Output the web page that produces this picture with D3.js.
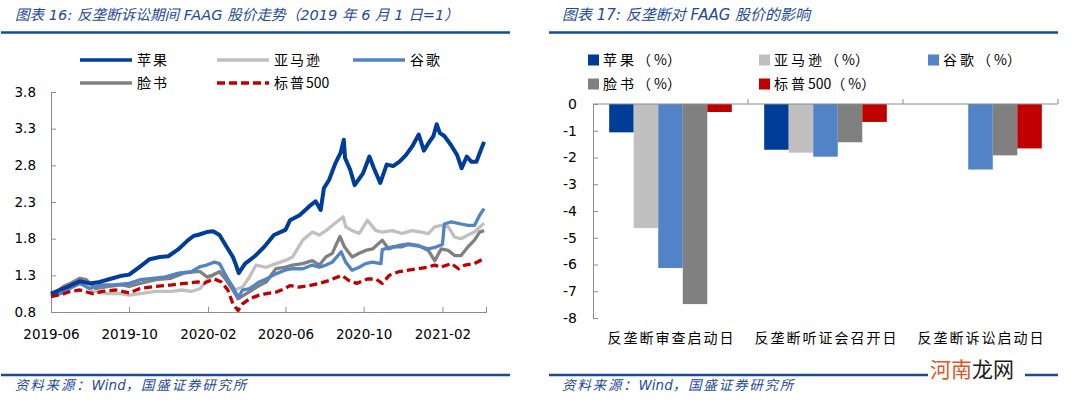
<!DOCTYPE html>
<html><head><meta charset="utf-8">
<script src="https://cdn.jsdelivr.net/npm/d3@7"></script>
<style>
html,body{margin:0;padding:0;background:#fff;}
svg{display:block;}
</style></head>
<body>
<svg id="c" width="1080" height="402"></svg>
<script>
// ---------- Left chart data ----------
const lineNames = ["苹果","亚马逊","谷歌","脸书","标普500"];
const lineColors = ["#003d99","#c0c0c0","#5183c6","#808080","#c00000"];
const xTickLabels = ["2019-06","2019-10","2020-02","2020-06","2020-10","2021-02"];
const yTicksLeft = [0.8,1.3,1.8,2.3,2.8,3.3,3.8];

const appleLine = [["2019-06-01",1.05],["2019-06-15",1.10],["2019-07-01",1.16],["2019-07-16",1.22],["2019-08-01",1.19],["2019-08-16",1.21],["2019-09-01",1.25],["2019-09-17",1.29],["2019-10-01",1.31],["2019-10-18",1.42],["2019-11-02",1.52],["2019-11-18",1.55],["2019-12-01",1.56],["2019-12-16",1.65],["2020-01-01",1.78],["2020-01-10",1.84],["2020-01-16",1.85],["2020-01-30",1.89],["2020-02-09",1.90],["2020-02-19",1.85],["2020-03-01",1.69],["2020-03-11",1.55],["2020-03-15",1.46],["2020-03-20",1.33],["2020-03-30",1.46],["2020-04-14",1.56],["2020-04-29",1.69],["2020-05-14",1.85],["2020-06-01",1.92],["2020-06-08",2.05],["2020-06-23",2.12],["2020-07-08",2.24],["2020-07-18",2.31],["2020-07-26",2.19],["2020-07-31",2.49],["2020-08-08",2.60],["2020-08-18",2.83],["2020-08-26",2.97],["2020-08-31",3.15],["2020-09-02",2.90],["2020-09-10",2.74],["2020-09-17",2.53],["2020-09-30",2.69],["2020-10-10",2.92],["2020-10-17",2.76],["2020-10-27",2.56],["2020-11-06",2.81],["2020-11-16",2.79],["2020-11-26",2.85],["2020-12-06",2.94],["2020-12-16",3.06],["2020-12-26",3.22],["2021-01-03",3.00],["2021-01-10",3.10],["2021-01-18",3.20],["2021-01-23",3.36],["2021-01-28",3.24],["2021-02-04",3.20],["2021-02-14",3.08],["2021-02-24",2.94],["2021-03-03",2.76],["2021-03-11",2.92],["2021-03-18",2.85],["2021-03-26",2.85],["2021-04-02",3.01],["2021-04-07",3.12]];

const amazonLine = [["2019-06-01",1.05],["2019-06-21",1.12],["2019-07-11",1.19],["2019-07-26",1.17],["2019-08-05",1.08],["2019-08-29",1.05],["2019-09-18",1.05],["2019-10-01",1.03],["2019-10-18",1.05],["2019-11-12",1.08],["2019-12-07",1.08],["2019-12-22",1.10],["2020-01-06",1.08],["2020-01-20",1.12],["2020-01-30",1.23],["2020-02-11",1.32],["2020-02-22",1.35],["2020-03-03",1.21],["2020-03-13",1.10],["2020-03-26",1.14],["2020-04-06",1.28],["2020-04-16",1.44],["2020-05-02",1.41],["2020-05-17",1.46],["2020-05-31",1.50],["2020-06-12",1.55],["2020-06-28",1.78],["2020-07-13",1.89],["2020-07-24",1.85],["2020-08-03",1.91],["2020-08-13",1.98],["2020-08-30",2.10],["2020-09-03",1.96],["2020-09-13",1.91],["2020-09-24",1.87],["2020-10-07",2.05],["2020-10-20",1.91],["2020-10-30",1.89],["2020-11-15",1.91],["2020-11-30",1.87],["2020-12-15",1.91],["2020-12-30",1.89],["2021-01-10",1.87],["2021-01-20",1.96],["2021-01-30",1.98],["2021-02-10",1.96],["2021-02-20",1.82],["2021-03-02",1.80],["2021-03-13",1.85],["2021-03-23",1.89],["2021-04-03",1.98],["2021-04-07",2.01]];

const googleLine = [["2019-06-01",1.03],["2019-06-16",1.05],["2019-06-30",1.12],["2019-07-16",1.19],["2019-07-31",1.12],["2019-08-18",1.17],["2019-09-07",1.17],["2019-10-01",1.19],["2019-10-18",1.24],["2019-11-07",1.26],["2019-11-27",1.28],["2019-12-17",1.33],["2020-01-06",1.35],["2020-01-20",1.42],["2020-01-30",1.44],["2020-02-11",1.48],["2020-02-19",1.46],["2020-03-01",1.28],["2020-03-11",1.14],["2020-03-19",1.00],["2020-03-26",1.10],["2020-04-06",1.12],["2020-04-21",1.21],["2020-05-02",1.25],["2020-05-17",1.32],["2020-05-31",1.37],["2020-06-12",1.39],["2020-06-28",1.39],["2020-07-13",1.44],["2020-07-24",1.41],["2020-08-03",1.44],["2020-08-13",1.48],["2020-08-27",1.62],["2020-09-03",1.48],["2020-09-13",1.37],["2020-09-24",1.41],["2020-10-04",1.46],["2020-10-15",1.48],["2020-10-28",1.46],["2020-10-30",1.65],["2020-11-15",1.69],["2020-11-30",1.69],["2020-12-10",1.72],["2020-12-25",1.70],["2021-01-10",1.66],["2021-01-20",1.68],["2021-02-01",1.72],["2021-02-04",2.00],["2021-02-15",2.03],["2021-03-02",2.00],["2021-03-13",1.98],["2021-03-23",1.98],["2021-03-31",2.12],["2021-04-07",2.21]];

const facebookLine = [["2019-06-01",1.03],["2019-06-21",1.15],["2019-07-01",1.19],["2019-07-16",1.26],["2019-07-26",1.24],["2019-08-10",1.12],["2019-08-30",1.15],["2019-09-20",1.17],["2019-10-01",1.15],["2019-10-18",1.19],["2019-11-12",1.24],["2019-12-05",1.26],["2019-12-25",1.33],["2020-01-14",1.35],["2020-01-20",1.35],["2020-01-30",1.28],["2020-02-08",1.30],["2020-02-19",1.35],["2020-03-01",1.23],["2020-03-11",1.10],["2020-03-19",0.98],["2020-03-28",1.03],["2020-04-10",1.10],["2020-04-21",1.16],["2020-05-02",1.21],["2020-05-17",1.39],["2020-05-31",1.41],["2020-06-12",1.44],["2020-06-28",1.46],["2020-07-13",1.50],["2020-07-24",1.44],["2020-08-03",1.55],["2020-08-13",1.60],["2020-08-25",1.83],["2020-09-01",1.69],["2020-09-13",1.55],["2020-09-24",1.60],["2020-10-04",1.64],["2020-10-15",1.66],["2020-10-30",1.78],["2020-11-09",1.66],["2020-11-25",1.71],["2020-12-10",1.73],["2020-12-25",1.71],["2021-01-10",1.64],["2021-01-20",1.50],["2021-01-30",1.66],["2021-02-10",1.64],["2021-02-20",1.57],["2021-03-02",1.57],["2021-03-13",1.69],["2021-03-23",1.78],["2021-03-31",1.89],["2021-04-07",1.91]];

const sp500Line = [["2019-06-01",1.01],["2019-06-21",1.05],["2019-07-01",1.08],["2019-07-16",1.10],["2019-08-05",1.05],["2019-08-20",1.08],["2019-09-10",1.10],["2019-10-01",1.06],["2019-10-18",1.12],["2019-11-12",1.15],["2019-12-07",1.17],["2019-12-27",1.19],["2020-01-16",1.21],["2020-01-26",1.19],["2020-01-30",1.21],["2020-02-11",1.25],["2020-02-22",1.21],["2020-03-03",1.10],["2020-03-11",0.91],["2020-03-19",0.82],["2020-03-26",0.91],["2020-04-06",0.98],["2020-04-21",1.03],["2020-05-02",1.05],["2020-05-17",1.07],["2020-05-31",1.12],["2020-06-08",1.16],["2020-06-22",1.14],["2020-07-08",1.16],["2020-07-24",1.19],["2020-08-08",1.23],["2020-08-28",1.30],["2020-09-08",1.23],["2020-09-20",1.19],["2020-10-07",1.25],["2020-10-20",1.25],["2020-10-30",1.19],["2020-11-10",1.30],["2020-11-25",1.35],["2020-12-10",1.37],["2020-12-25",1.39],["2021-01-08",1.41],["2021-01-20",1.44],["2021-01-29",1.41],["2021-02-15",1.46],["2021-02-26",1.39],["2021-03-08",1.44],["2021-03-23",1.46],["2021-04-07",1.53]];

// ---------- Right chart data ----------
const barCategories = ["反垄断审查启动日","反垄断听证会召开日","反垄断诉讼启动日"];
const barSeriesNames = ["苹果（%）","亚马逊（%）","谷歌（%）","脸书（%）","标普500（%）"];
const appleBar = [-1.06,-1.71,null];
const amazonBar = [-4.64,-1.82,null];
const googleBar = [-6.13,-1.97,-2.45];
const facebookBar = [-7.48,-1.43,-1.92];
const sp500Bar = [-0.30,-0.67,-1.66];
const yTicksRight = [0,-1,-2,-3,-4,-5,-6,-7,-8];

// ---------- Drawing ----------
const svg = d3.select("#c");
const BLUE = "#1f4a9c";
const AX = "#8c8c8c";
const NUMF = "'DejaVu Sans','Noto Sans CJK SC',sans-serif";
const CJKF = "'Noto Sans CJK SC','DejaVu Sans',sans-serif";
svg.append("rect").attr("width",1080).attr("height",402).attr("fill","#fff");

// write text: wide letter spacing only on CJK / full-width runs
function spacedText(sel, str, sp){
  const runs = str.match(/[\u3000-\u9fff\uff00-\uffef]+|[^\u3000-\u9fff\uff00-\uffef]+/g) || [];
  runs.forEach(r=>{
    const cjk = /[\u3000-\u9fff\uff00-\uffef]/.test(r);
    sel.append("tspan").attr("letter-spacing",cjk?sp:0).text(r);
  });
  return sel;
}

// titles and frame lines
svg.append("text").attr("x",15).attr("y",20).attr("fill",BLUE).attr("font-size",14.6)
  .attr("font-style","italic").attr("font-family",NUMF)
  .text("图表 16:  反垄断诉讼期间 FAAG 股价走势（2019 年 6 月 1 日=1）");
svg.append("text").attr("x",562).attr("y",20).attr("fill",BLUE).attr("font-size",15)
  .attr("font-style","italic").attr("font-family",NUMF)
  .text("图表 17:  反垄断对 FAAG 股价的影响");
[[1,510],[549,1058]].forEach(([a,b])=>{
  svg.append("line").attr("x1",a).attr("x2",b).attr("y1",32.5).attr("y2",32.5).attr("stroke","#1a4a9a").attr("stroke-width",2.5);
  svg.append("line").attr("x1",a).attr("x2",b).attr("y1",375).attr("y2",375).attr("stroke","#1a4a9a").attr("stroke-width",2.5);
});
[15,562].forEach(x=>{
  const t = svg.append("text").attr("x",x).attr("y",390).attr("fill",BLUE).attr("font-size",13.5)
    .attr("font-style","italic").attr("font-family",NUMF);
  spacedText(t,"资料来源：Wind，国盛证券研究所",1.8);
});

// ----- Left line chart -----
const parse = d3.timeParse("%Y-%m-%d");
const xL = d3.scaleTime().domain([parse("2019-06-01"),parse("2021-04-10")]).range([51,486]);
const yL = d3.scaleLinear().domain([0.8,3.8]).range([312,92]);
const gL = svg.append("g");

const yAxisL = d3.axisLeft(yL).tickValues(yTicksLeft).tickFormat(d3.format(".1f")).tickSize(-5).tickPadding(15);
const gy = gL.append("g").attr("transform","translate(51,0)").call(yAxisL);
const xTickDates = xTickLabels.map(s=>parse(s+"-01"));
const xAxisL = d3.axisBottom(xL).tickValues(xTickDates).tickFormat(d3.timeFormat("%Y-%m")).tickSize(-5).tickPadding(20);
const gx = gL.append("g").attr("transform","translate(0,312)").call(xAxisL);
[gy,gx].forEach(g=>{
  g.select(".domain").attr("stroke",AX);
  g.selectAll(".tick line").attr("stroke",AX);
  g.selectAll("text").attr("font-family",NUMF).attr("font-size",13.5).attr("fill","#000");
});
gx.selectAll("text").attr("dy","0.5em");

const seriesLines = [appleLine,amazonLine,googleLine,facebookLine,sp500Line];
const lineGen = d3.line().x(d=>xL(parse(d[0]))).y(d=>yL(d[1])).curve(d3.curveLinear);
const drawOrder = [1,3,2,4,0];
drawOrder.forEach(i=>{
  gL.append("path").datum(seriesLines[i]).attr("d",lineGen).attr("fill","none")
    .attr("stroke",lineColors[i]).attr("stroke-width",i===0?4:3.3)
    .attr("stroke-linejoin","round")
    .attr("stroke-dasharray",i===4?"8,4":null);
});

// left legend
const legL = [[80,60],[217,60],[353,60],[80,83],[217,83]];
lineNames.forEach((n,i)=>{
  const [x,y]=legL[i];
  svg.append("line").attr("x1",x).attr("x2",x+52).attr("y1",y).attr("y2",y)
    .attr("stroke",lineColors[i]).attr("stroke-width",3.5)
    .attr("stroke-dasharray",i===4?"8,4":null);
  const t = svg.append("text").attr("x",x+57).attr("y",y).attr("dy","0.35em").attr("font-size",14)
    .attr("font-family",CJKF).attr("fill","#000");
  spacedText(t,n,2);
});

// ----- Right bar chart -----
const xR = d3.scaleBand().domain(barCategories).range([593,1058]).paddingInner(0).paddingOuter(0);
const xSub = d3.scaleBand().domain(barSeriesNames).range([0,xR.bandwidth()]).paddingInner(0).paddingOuter(0.66);
const yR = d3.scaleLinear().domain([-8,0]).range([318,104]);
const gR = svg.append("g");
const barSeries = [appleBar,amazonBar,googleBar,facebookBar,sp500Bar];
barSeries.forEach((vals,si)=>{
  gR.append("g").selectAll("rect").data(vals.map((v,ci)=>({v,c:barCategories[ci]})).filter(d=>d.v!==null))
    .join("rect")
    .attr("x",d=>xR(d.c)+xSub(barSeriesNames[si]))
    .attr("width",xSub.bandwidth())
    .attr("y",yR(0))
    .attr("height",d=>yR(d.v)-yR(0))
    .attr("fill",lineColors[si]);
});
const yAxisR = d3.axisLeft(yR).tickValues(yTicksRight).tickFormat(d3.format("d")).tickSize(-5).tickPadding(16);
const gyR = gR.append("g").attr("transform","translate(593,0)").call(yAxisR);
gyR.selectAll("text").text(d=>d===0?"0":d3.format("d")(d).replace("−","-"));
gyR.select(".domain").attr("stroke",AX);
gyR.selectAll(".tick line").attr("stroke",AX);
gyR.selectAll("text").attr("font-family",NUMF).attr("font-size",14).attr("fill","#000");
// x axis at zero
gR.append("line").attr("x1",593).attr("x2",1058).attr("y1",yR(0)).attr("y2",yR(0)).attr("stroke",AX);
barCategories.forEach(c=>{
  const xe = xR(c)+xR.bandwidth();
  gR.append("line").attr("x1",xe).attr("x2",xe).attr("y1",yR(0)-5).attr("y2",yR(0)).attr("stroke",AX);
  gR.append("text").attr("x",xR(c)+xR.bandwidth()/2+1).attr("y",338).attr("dy","0.35em")
    .attr("text-anchor","middle").attr("font-size",14).attr("letter-spacing",2)
    .attr("font-family",CJKF).attr("fill","#000").text(c);
});

// right legend
const legR = [[588,60],[759,60],[928,60],[588,84],[759,84]];
barSeriesNames.forEach((n,i)=>{
  const [x,y]=legR[i];
  svg.append("rect").attr("x",x).attr("y",y-5.5).attr("width",11).attr("height",11).attr("fill",lineColors[i]);
  const t = svg.append("text").attr("x",x+15).attr("y",y).attr("dy","0.35em").attr("font-size",14)
    .attr("font-family",CJKF).attr("fill","#000");
  spacedText(t,n,3);
});

// watermark
svg.append("rect").attr("x",928).attr("y",358).attr("width",97).attr("height",24).attr("fill","#fff");
const wm = svg.append("text").attr("x",930).attr("y",377).attr("font-size",21).attr("font-family",CJKF);
wm.append("tspan").attr("fill","#e2571e").text("河南");
wm.append("tspan").attr("fill","#1a1a1a").text("龙网");
</script>
</body></html>
